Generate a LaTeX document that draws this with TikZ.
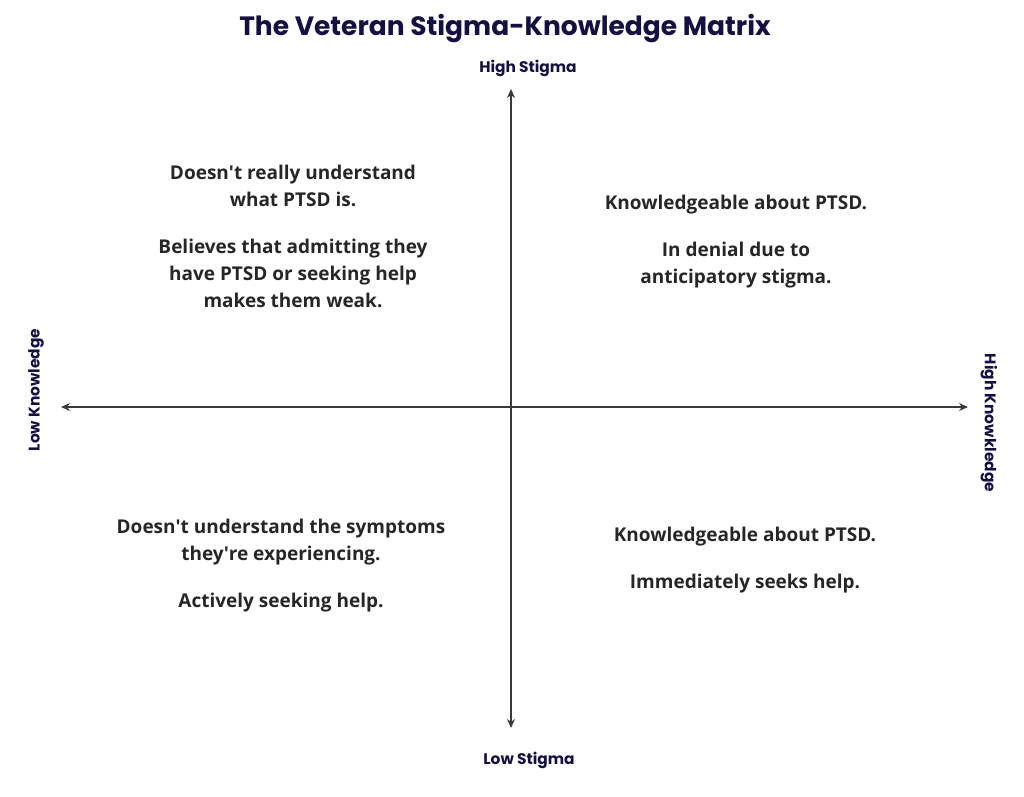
\documentclass[tikz,border=0pt]{standalone}
\usepackage{fontspec}
\setmainfont{Open Sans}
\newfontfamily\titlefont{Poppins}
\usetikzlibrary{arrows.meta}
\definecolor{navy}{HTML}{14103F}
\definecolor{ink}{HTML}{262626}
\definecolor{axis}{HTML}{3A3A3A}
\begin{document}
\begin{tikzpicture}[x=1pt, y=-1pt,
	quad/.style={align=center, text=ink, font=\bfseries\fontsize{19}{27}\selectfont},
	axislabel/.style={text=navy, font=\titlefont\bfseries\fontsize{15.4}{18}\selectfont},
	axisline/.style={draw=axis, line width=1.9pt, -{Stealth[length=9pt, width=8pt]}}]
\useasboundingbox (0,0) rectangle (1024,796);
\node[text=navy, font=\titlefont\bfseries\fontsize{26.5}{30}\selectfont] (title) at (505,29) {The Veteran Stigma-Knowledge Matrix};
\node[axislabel] (high) at (528,68) {High Stigma};
\node[axislabel] (low) at (529,760) {Low Stigma};
\node[axislabel, rotate=90] (lowk) at (36,390) {Low Knowledge};
\node[axislabel, rotate=-90] (highk) at (989,423) {High Knowkledge};
\coordinate (o) at (511,407);
\coordinate (n) at (511,89);
\coordinate (s) at (511,728);
\coordinate (w) at (61,407);
\coordinate (e) at (968,407);
\draw[axisline] (o) -- (n);
\draw[axisline] (o) -- (s);
\draw[axisline] (o) -- (w);
\draw[axisline] (o) -- (e);
\node[quad] (tl) at (293,236) {Doesn\textquotesingle t really understand\\what PTSD is.\\[20pt]Believes that admitting they\\have PTSD or seeking help\\makes them weak.};
\node[quad] (tr) at (736,242) {Knowledgeable about PTSD.\\[20pt]In denial due to\\anticipatory stigma.};
\node[quad] (bl) at (281,566) {Doesn\textquotesingle t understand the symptoms\\they\textquotesingle re experiencing.\\[20pt]Actively seeking help.};
\node[quad] (br) at (745,560) {Knowledgeable about PTSD.\\[20pt]Immediately seeks help.};
\end{tikzpicture}
\end{document}
